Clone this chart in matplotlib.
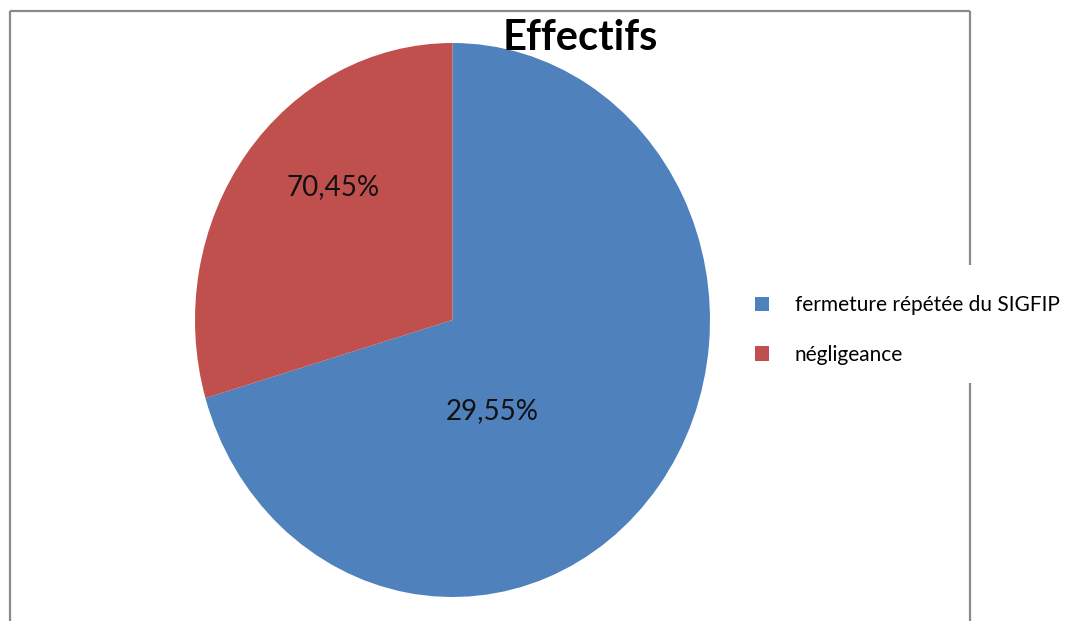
import matplotlib.pyplot as plt
from matplotlib.lines import Line2D

# effectifs par cause
causes = ["fermeture répétée du SIGFIP", "négligeance"]
parts = [70.45, 29.55]
slice_labels = ["29,55%", "70,45%"]
colors = ["#4F81BD", "#C0504D"]

W, H = 1075, 621
fig = plt.figure(figsize=(W / 100, H / 100), dpi=100)

# pie area in pixels (slightly taller than wide)
left, right, top, bottom = 195, 710, 43, 597
ax = fig.add_axes([left / W, (H - bottom) / H, (right - left) / W, (bottom - top) / H])
wedges, _ = ax.pie(parts, colors=colors, startangle=90, counterclock=False,
                   wedgeprops=dict(linewidth=0))
ax.set_aspect("auto")
ax.set_xlim(-1, 1)
ax.set_ylim(-1, 1)
ax.axis("off")

label_pos = [(0.155, -0.33), (-0.465, 0.48)]
for (x, y), txt in zip(label_pos, slice_labels):
    ax.text(x, y, txt, ha="center", va="center", fontsize=20, family="Lato", color="#111111")

fig.text(580 / W, 1 - 38 / H, "Effectifs", ha="center", va="center",
         fontsize=30, fontweight="bold", family="Lato")

fig.legend(wedges, causes, loc="center left", bbox_to_anchor=(736 / W, 1 - 330 / H),
           frameon=False, handlelength=0.68, handleheight=0.68, handletextpad=1.25,
           labelspacing=1.42, prop=dict(family="Lato", size=15))

# chart frame, open on the right behind the legend
frame = dict(color="#8a8a8a", lw=1.6, solid_capstyle="butt")
segments = [((10, 10), (11, H)), ((10, 970), (11, 11)),
            ((970, 970), (11, 265)), ((970, 970), (383, H))]
for xs, ys in segments:
    fig.add_artist(Line2D([x / W for x in xs], [1 - y / H for y in ys], **frame))

fig.savefig("out.png", dpi=100)
